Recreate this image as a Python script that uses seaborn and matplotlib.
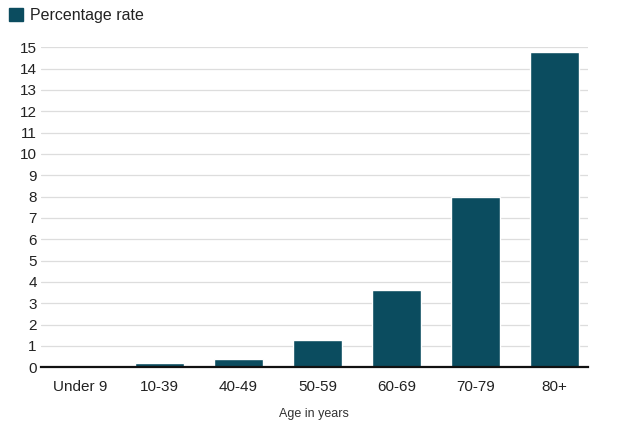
import matplotlib
matplotlib.use("Agg")
import matplotlib.pyplot as plt
import seaborn as sns
import pandas as pd
from matplotlib.patches import Patch

# Chart data
age_groups = ["Under 9", "10-39", "40-49", "50-59", "60-69", "70-79", "80+"]
rates = [0.0, 0.19, 0.37, 1.28, 3.62, 7.98, 14.77]
y_ticks = list(range(0, 16))

BAR_COLOR = "#0b4c5f"

sns.set_theme(style="white")
plt.rcParams['font.family'] = ['Liberation Sans', 'DejaVu Sans']

df = pd.DataFrame({"age": age_groups, "rate": rates})

fig = plt.figure(figsize=(6.2, 4.25), dpi=100)
ax = fig.add_axes([0.066, 0.136, 0.882, 0.753])

sns.barplot(data=df, x="age", y="rate", color=BAR_COLOR, saturation=1,
            width=0.61, ax=ax, zorder=3)

ax.set_ylim(0, 15)
ax.set_xlim(-0.5, 6.42)
ax.set_yticks(y_ticks)
ax.yaxis.grid(True, color="#dddddd", linewidth=0.9, zorder=0)
ax.tick_params(axis="both", length=0, labelsize=11, colors="#222222")
ax.tick_params(axis="x", pad=9)
ax.tick_params(axis="y", pad=3)

for side in ["top", "right", "left"]:
    ax.spines[side].set_visible(False)
ax.spines["bottom"].set_color("#111111")
ax.spines["bottom"].set_linewidth(1.6)
ax.spines["bottom"].set_zorder(4)

ax.set_ylabel("")
ax.set_xlabel("Age in years", fontsize=9, color="#333333", labelpad=10)

fig.legend(handles=[Patch(color=BAR_COLOR, label="Percentage rate")],
           loc="upper left", bbox_to_anchor=(-0.008, 1.015), frameon=False,
           fontsize=11.5, handlelength=0.85, handleheight=0.9, handletextpad=0.45,
           labelcolor="#222222")

fig.savefig("out.png", dpi=100, facecolor="white")
